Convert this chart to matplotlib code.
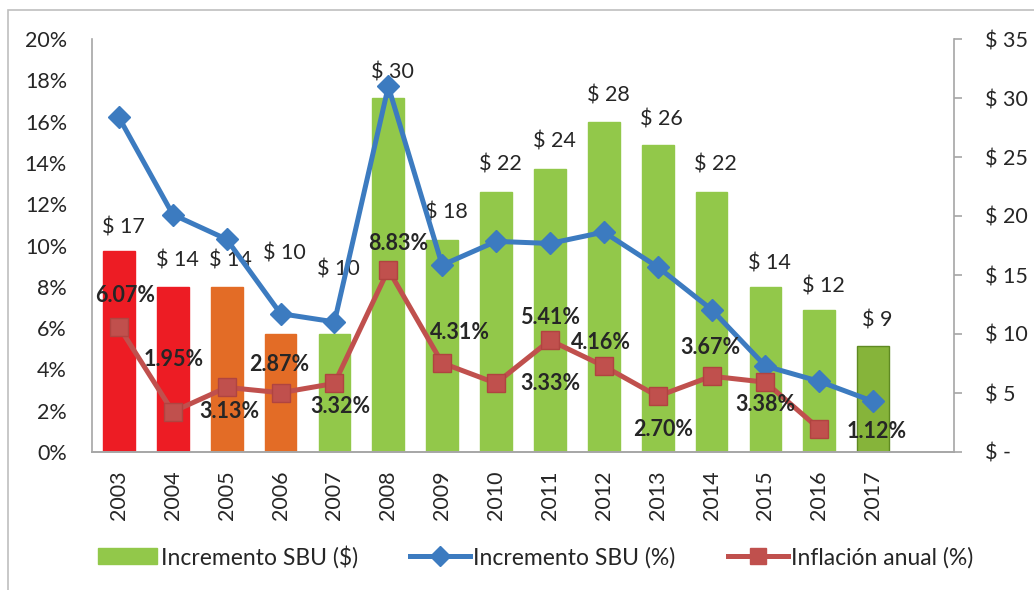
import matplotlib
matplotlib.use("Agg")
import matplotlib.pyplot as plt
from matplotlib.patches import Rectangle
from matplotlib.lines import Line2D
from matplotlib.patches import Patch
import numpy as np

plt.rcParams['font.family'] = ['Lato', 'DejaVu Sans']

years = ['2003', '2004', '2005', '2006', '2007', '2008', '2009', '2010',
         '2011', '2012', '2013', '2014', '2015', '2016', '2017']
sbu_usd = [17, 14, 14, 10, 10, 30, 18, 22, 24, 28, 26, 22, 14, 12, 9]
sbu_pct = [16.2, 11.5, 10.3, 6.7, 6.3, 17.7, 9.05, 10.2, 10.1, 10.65,
           8.96, 6.9, 4.16, 3.42, 2.45]
inflation = [6.07, 1.95, 3.13, 2.87, 3.32, 8.83, 4.31, 3.33, 5.41, 4.16,
             2.70, 3.67, 3.38, 1.12]
inflation_labels = ['6.07%', '1.95%', '3.13%', '2.87%', '3.32%', '8.83%', '4.31%',
                    '3.33%', '5.41%', '4.16%', '2.70%', '3.67%', '3.38%', '1.12%']

# label placement (pixels): offsets for inflation labels, lift for bar labels
infl_off = [(6, 31), (1, 52), (3, -24), (-1, 28), (6, -23), (10, 26), (18, 30),
            (54, 0), (0, 23), (-3, 24), (5, -33), (-1, 29), (0, -22), (57, -3)]
bar_lift = [24, 26, 26, 80, 64, 26, 27, 28, 27, 26, 26, 28, 23, 24, 25]

RED_BAR = '#ED1C24'
ORANGE = '#E36C26'
GREEN = '#92C84A'
BLUE = '#3C7BC0'
RED_LINE = '#C0504D'
bar_colors = [RED_BAR] * 2 + [ORANGE] * 2 + [GREEN] * 10 + ['#86B43A']
bar_edges = [RED_BAR] * 2 + [ORANGE] * 2 + [GREEN] * 10 + ['#5F8A22']

px = 0.72  # pixel -> point at 100 dpi
FS = 15.5

fig = plt.figure(figsize=(10.34, 5.9), dpi=100)
ax = fig.add_axes([92 / 1034, 138 / 590, 862 / 1034, 413 / 590])
ax2 = ax.twinx()

x = np.arange(len(years))

# bars on the right ($) axis
ax2.bar(x, sbu_usd, width=0.59, color=bar_colors, edgecolor=bar_edges,
        linewidth=1, zorder=1)
for i, v in enumerate(sbu_usd):
    ax2.annotate(f'$ {v}', (x[i], v), xytext=(3, bar_lift[i] * px),
                 textcoords='offset points', ha='center', va='center',
                 fontsize=FS, color='#262626')
ax2.set_ylim(0, 35)
ax2.set_yticks(np.arange(0, 36, 5))
ax2.set_yticklabels(['$ -'] + [f'$ {v}' for v in range(5, 36, 5)])

# lines on the left (%) axis, drawn above the bars
ax.set_zorder(ax2.get_zorder() + 1)
ax.patch.set_visible(False)
ax.plot(x, sbu_pct, color=BLUE, lw=3.6, marker='D', markersize=11.5,
        markerfacecolor=BLUE, markeredgecolor=BLUE, zorder=3)
xi = x[:len(inflation)]
ax.plot(xi, inflation, color=RED_LINE, lw=3.6, marker='s', markersize=12.5,
        markerfacecolor=RED_LINE, markeredgecolor='#B04440', zorder=4)
for i, v in enumerate(inflation):
    dx, dy = infl_off[i]
    ax.annotate(inflation_labels[i], (xi[i], v), xytext=(dx * px, dy * px),
                textcoords='offset points', ha='center', va='center',
                fontsize=FS, fontweight='bold', color='#262626', zorder=5)

ax.set_ylim(0, 20)
ax.set_yticks(np.arange(0, 21, 2))
ax.set_yticklabels([f'{v}%' for v in range(0, 21, 2)])
ax.set_xlim(-0.5, 15.5)
ax.set_xticks(x)
ax.set_xticklabels(years, rotation=90)

for a in (ax, ax2):
    for s in a.spines.values():
        s.set_color('#A6A6A6')
        s.set_linewidth(1.2)
    a.spines['top'].set_visible(False)
ax.spines['right'].set_visible(False)
ax2.spines['left'].set_visible(False)

ax.tick_params(axis='y', length=0, pad=18, labelsize=FS, labelcolor='#262626')
ax.tick_params(axis='x', length=0, pad=13, labelsize=FS, labelcolor='#262626')
ax2.tick_params(axis='y', length=6, width=1.2, color='#A6A6A6', pad=16,
                labelsize=FS, labelcolor='#262626')

handles = [Patch(color=GREEN),
           Line2D([], [], color=BLUE, lw=3.6, marker='D', markersize=10),
           Line2D([], [], color=RED_LINE, lw=3.6, marker='s', markersize=11)]
fig.legend(handles, ['Incremento SBU ($)', 'Incremento SBU (%)', 'Inflación anual (%)'],
           loc='center', bbox_to_anchor=(0.518, 0.056), ncol=3, frameon=False,
           fontsize=16.5, handlelength=2.6, handletextpad=0.15, columnspacing=2.3,
           labelcolor='#262626')

# light outer frame
fig.patches.append(Rectangle((8 / 1034, -0.1), 1.2, (580 / 590) + 0.1,
                             transform=fig.transFigure, fill=False,
                             edgecolor='#BFBFBF', linewidth=1.2))

fig.savefig('out.png', dpi=100)
